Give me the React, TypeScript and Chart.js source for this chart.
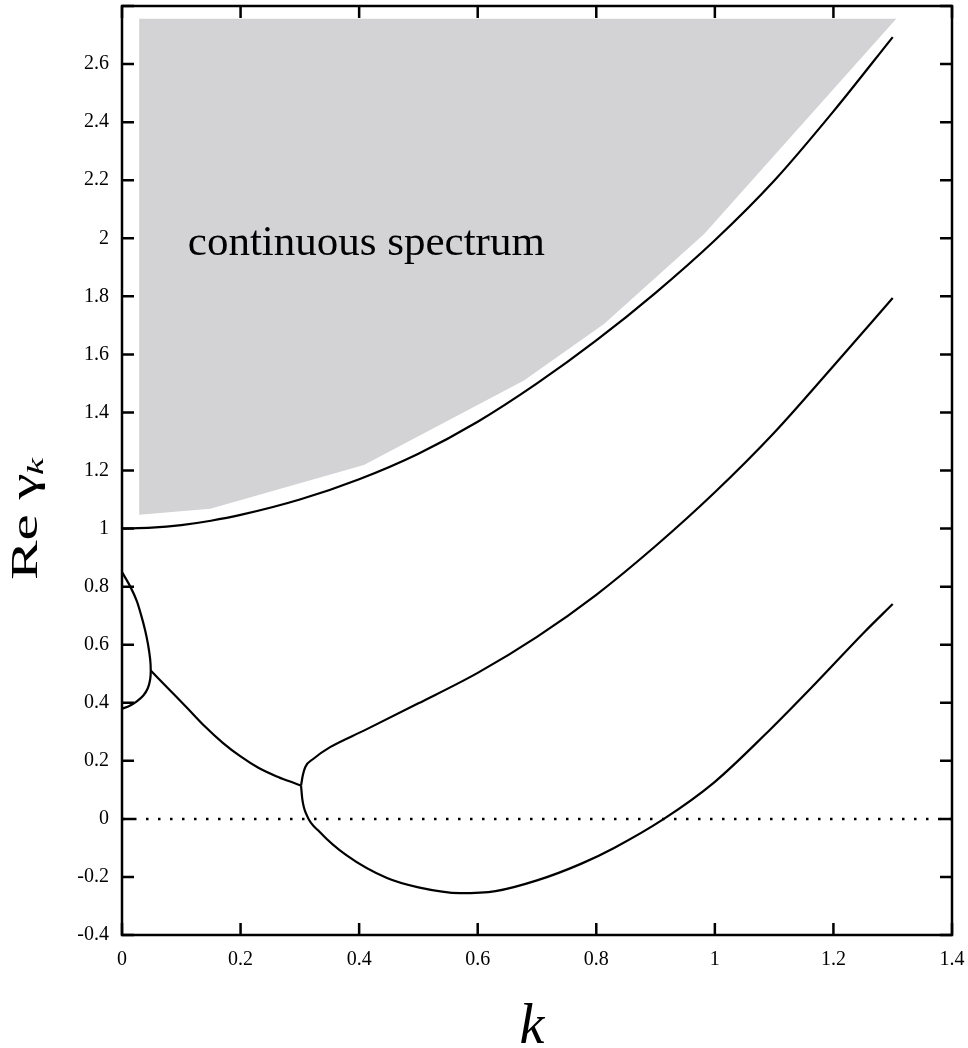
import React, { useEffect, useRef } from 'react';
import { Chart, registerables } from 'chart.js';

Chart.register(...registerables);

// ---- data ----
const upperK = [0, 0.05, 0.1, 0.15, 0.2, 0.3, 0.4, 0.5, 0.6, 0.7, 0.8, 0.9, 1.0, 1.1, 1.2, 1.3];
const upperRe = [1.0, 1.003, 1.012, 1.027, 1.047, 1.1, 1.17, 1.258, 1.368, 1.5, 1.648, 1.812, 1.993, 2.198, 2.437, 2.693];

const middleK = [0.302, 0.305, 0.309, 0.323, 0.351, 0.408, 0.5, 0.6, 0.7, 0.8, 0.9, 1.0, 1.1, 1.2, 1.3];
const middleRe = [0.115, 0.15, 0.178, 0.207, 0.247, 0.304, 0.398, 0.503, 0.627, 0.772, 0.94, 1.125, 1.33, 1.56, 1.794];

const lowerK = [0.302, 0.304, 0.312, 0.334, 0.379, 0.447, 0.5, 0.57, 0.63, 0.7, 0.774, 0.83, 0.914, 0.999, 1.083, 1.168, 1.252, 1.3];
const lowerRe = [0.115, 0.07, 0.011, -0.046, -0.126, -0.204, -0.236, -0.256, -0.249, -0.212, -0.155, -0.1, 0.0, 0.126, 0.287, 0.463, 0.643, 0.74];

const loopK = [0, 0.014, 0.025, 0.0325, 0.039, 0.044, 0.0475, 0.0485, 0.0475, 0.0435, 0.036, 0.025, 0.013, 0];
const loopRe = [0.85, 0.80, 0.75, 0.70, 0.65, 0.60, 0.55, 0.51, 0.48, 0.45, 0.425, 0.405, 0.39, 0.379];

const branchK = [0.0485, 0.08, 0.11, 0.14, 0.17, 0.2, 0.23, 0.26, 0.28, 0.302];
const branchRe = [0.511, 0.445, 0.382, 0.318, 0.262, 0.215, 0.176, 0.147, 0.131, 0.115];

const grayK = [0.029, 0.029, 0.149, 0.408, 0.678, 0.813, 0.982, 1.306, 0.029];
const grayRe = [2.756, 1.048, 1.068, 1.219, 1.51, 1.705, 2.015, 2.756, 2.756];

const zeroK = [0, 1.4];
const zeroRe = [0, 0];

const spectrumLabel = 'continuous spectrum';
const spectrumPos = [0.111, 1.943];

const xMin = 0, xMax = 1.4, xStep = 0.2;
const yMin = -0.4, yMax = 2.8, yStep = 0.2;

const FONT = '"Liberation Serif", "Times New Roman", serif';

const pts = (xs: number[], ys: number[]) => xs.map((x, i) => ({ x, y: ys[i] }));

const curve = (xs: number[], ys: number[], monotone = true) => ({
  data: pts(xs, ys),
  showLine: true,
  borderColor: '#000',
  borderWidth: 2.2,
  pointRadius: 0,
  tension: monotone ? 0 : 0.3,
  cubicInterpolationMode: monotone ? 'monotone' : 'default',
  fill: false,
  order: 1,
});

const framePlugin = {
  id: 'frame',
  afterDraw(chart: any) {
    const { ctx, chartArea: a, scales } = chart;
    const xs = scales.x, ys = scales.y;
    ctx.save();
    // label inside gray region
    ctx.fillStyle = '#000';
    ctx.font = `43px ${FONT}`;
    ctx.textAlign = 'left';
    ctx.textBaseline = 'alphabetic';
    ctx.fillText(spectrumLabel, xs.getPixelForValue(spectrumPos[0]), ys.getPixelForValue(spectrumPos[1]));

    // frame
    ctx.strokeStyle = '#000';
    ctx.lineWidth = 2.5;
    ctx.strokeRect(a.left, a.top, a.right - a.left, a.bottom - a.top);
    ctx.beginPath();
    const tl = 12;
    xs.ticks.forEach((t: any) => {
      const p = xs.getPixelForValue(t.value);
      ctx.moveTo(p, a.bottom); ctx.lineTo(p, a.bottom - tl);
      ctx.moveTo(p, a.top); ctx.lineTo(p, a.top + tl);
    });
    ys.ticks.forEach((t: any) => {
      const p = ys.getPixelForValue(t.value);
      ctx.moveTo(a.left, p); ctx.lineTo(a.left + tl, p);
      ctx.moveTo(a.right, p); ctx.lineTo(a.right - tl, p);
    });
    ctx.stroke();

    // x title
    ctx.font = `italic 56px ${FONT}`;
    ctx.textAlign = 'center';
    ctx.fillText('k', (a.left + a.right) / 2 - 5, 1043);

    // y title (rotated)
    ctx.translate(37, 580);
    ctx.rotate(-Math.PI / 2);
    ctx.scale(1.6, 1);
    ctx.font = `37px ${FONT}`;
    ctx.textAlign = 'left';
    ctx.fillText('Re γ', 0, 0);
    const w = ctx.measureText('Re γ').width;
    ctx.font = `italic 24px ${FONT}`;
    ctx.fillText('k', w - 1, 6);
    ctx.restore();
  },
};

export default function App() {
  const ref = useRef<HTMLCanvasElement>(null);
  useEffect(() => {
    if (!ref.current) return;
    const chart = new Chart(ref.current, {
      type: 'scatter',
      data: {
        datasets: [
          curve(upperK, upperRe),
          curve(middleK, middleRe),
          curve(lowerK, lowerRe),
          curve(loopK, loopRe, false),
          curve(branchK, branchRe),
          {
            data: pts(zeroK, zeroRe),
            showLine: true,
            borderColor: '#000',
            borderWidth: 2.5,
            borderDash: [2.5, 9.5],
            borderCapStyle: 'butt',
            pointRadius: 0,
            tension: 0,
            fill: false,
            order: 2,
          },
          {
            data: pts(grayK, grayRe),
            showLine: true,
            borderWidth: 0,
            borderColor: 'rgba(0,0,0,0)',
            backgroundColor: '#d3d3d6',
            pointRadius: 0,
            tension: 0,
            fill: 'shape',
            order: 10,
          },
        ] as any,
      },
      options: {
        responsive: false,
        animation: false,
        events: [],
        layout: { padding: { left: 0, top: 6, right: 16, bottom: 0 } },
        plugins: { legend: { display: false }, tooltip: { enabled: false } },
        scales: {
          x: {
            type: 'linear',
            min: xMin,
            max: xMax,
            grid: { display: false, drawTicks: false },
            border: { display: false },
            ticks: {
              stepSize: xStep,
              padding: 13,
              color: '#000',
              font: { family: FONT, size: 20 },
              callback: (v: any) => String(Number(Number(v).toFixed(1))),
            },
            afterFit: (s: any) => { s.height = 113; s.paddingLeft = 0; s.paddingRight = 0; },
          },
          y: {
            type: 'linear',
            min: yMin,
            max: yMax,
            grid: { display: false, drawTicks: false },
            border: { display: false },
            ticks: {
              stepSize: yStep,
              padding: 13,
              color: '#000',
              font: { family: FONT, size: 20 },
              callback: (v: any) => (Math.abs(Number(v) - yMax) < 1e-6 ? '' : String(Number(Number(v).toFixed(1)))),
            },
            afterFit: (s: any) => { s.width = 122; s.paddingTop = 0; s.paddingBottom = 0; },
          },
        },
      } as any,
      plugins: [framePlugin],
    });
    return () => chart.destroy();
  }, []);
  return (
    <div style={{ position: 'absolute', left: 0, top: 0, width: 968, height: 1048, background: '#fff' }}>
      <canvas ref={ref} width={968} height={1048} style={{ width: 968, height: 1048, display: 'block' }} />
    </div>
  );
}
